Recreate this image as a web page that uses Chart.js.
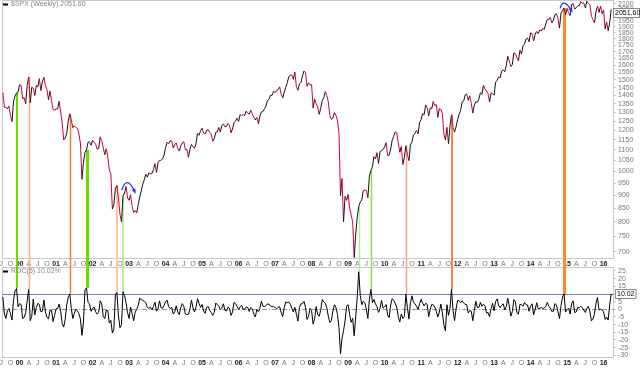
<!DOCTYPE html>
<html><head><meta charset="utf-8">
<script src="https://cdn.jsdelivr.net/npm/chart.js@4.4.1/dist/chart.umd.min.js"></script>
<style>
html,body{margin:0;padding:0;background:#fff;}
#wrap{position:relative;width:640px;height:369px;overflow:hidden;background:#fff;}
canvas{position:absolute;left:0;}
</style></head><body>
<div id="wrap">
<canvas id="c1" width="640" height="267" style="top:0"></canvas>
<canvas id="c2" width="640" height="102" style="top:267px"></canvas>
</div>
<script>
// ---- categories: semi-monthly sample dates (decimal years), starting mid-July 1999
const startYear = 1999 + 13/24;
const stepYears = 1/24;

// ---- $SPX weekly close (sampled twice a month)
const spxWeekly = [
1418,1329,1330,1320,1336,1283,1247,1363,1397,1416,1421,1469,
1465,1380,1387,1350,1464,1520,1356,1452,1447,1400,1464,1455,1509,1431,1491,1518,1465,1437,1374,1429,1367,1315,1312,1320,
1318,1366,1301,1240,1150,1160,1183,1250,1291,1256,1214,1224,1215,1211,1181,1134,966,1041,1089,1100,1138,1140,1123,1148,
1139,1130,1104,1107,1166,1147,1111,1077,1106,1067,1007,990,847,864,929,940,889,827,800,897,909,936,889,880,
902,856,834,841,833,863,893,917,946,964,988,975,994,990,990,1008,1036,996,1039,1051,1050,1058,1075,1112,
1139,1131,1145,1145,1110,1126,1135,1107,1095,1121,1135,1141,1101,1102,1065,1104,1128,1115,1108,1130,1184,1174,1198,1212,
1185,1181,1200,1204,1190,1181,1143,1157,1190,1192,1216,1191,1227,1234,1220,1220,1237,1229,1187,1207,1242,1250,1267,1248,
1287,1280,1287,1281,1307,1295,1289,1311,1291,1270,1256,1270,1236,1277,1302,1304,1321,1336,1369,1378,1401,1401,1427,1418,
1431,1438,1455,1407,1386,1421,1452,1482,1522,1531,1533,1503,1553,1455,1433,1474,1484,1527,1561,1549,1458,1481,1468,1468,
1325,1379,1349,1331,1288,1323,1370,1386,1425,1400,1360,1280,1260,1267,1298,1283,1255,1190,899,969,800,896,880,903,
850,826,800,683,757,816,857,873,882,919,921,919,890,979,1004,1021,1068,1057,1087,1036,1093,1096,1102,1115,
1136,1074,1075,1104,1150,1169,1192,1187,1135,1089,1117,1031,1065,1121,1079,1049,1125,1141,1176,1183,1199,1181,1243,1258,
1293,1286,1343,1327,1279,1326,1320,1364,1338,1345,1271,1321,1316,1292,1179,1150,1216,1131,1224,1285,1216,1190,1219,1258,
1289,1312,1361,1366,1404,1409,1370,1398,1353,1295,1342,1362,1357,1379,1418,1407,1465,1441,1428,1412,1360,1416,1413,1402,
1485,1498,1520,1515,1560,1569,1555,1598,1667,1631,1592,1606,1692,1686,1655,1633,1710,1682,1745,1757,1798,1806,1775,1848,
1839,1783,1838,1860,1841,1872,1864,1884,1878,1924,1962,1960,1978,1931,1955,2003,2010,1972,1887,2018,2039,2064,2002,2059,
2019,1995,2097,2104,2053,2068,2081,2086,2122,2107,2110,2063,2127,2104,2092,1989,1958,1931,2033,2079,2023,2080,2012,2044,
1880,1940,1865,1932,2051.6
];

// ---- ROC(5) in percent, same dates
const roc5 = [
8,-3,-6,-1,0.5,-2.8,-7,6,12,13.5,1.7,3.7,
3.1,-6,-5.3,-2.2,5.6,13,-7.4,-4.5,6.7,-3.6,1.2,3.9,3.1,-1.6,-1.2,6.1,-1.7,-5.3,-6.2,-0.6,-0.5,-8,-4,0.4,
0.5,3.5,-1.3,-9.2,-11.6,-6.5,2.9,7.8,10,0.5,-6,-2.5,0.1,-1,-2.8,-6.4,-17,-8.2,12.7,14,4.5,3.6,-1.3,0.7,
1.4,-1.6,-3.1,-2,5.6,3.6,-4.7,-6.1,-0.5,-0.9,-9,-7.2,-15.5,-12.7,9.7,11,-4.3,-12,-10,11.5,9,4.3,-2.2,-6,
1.5,-2.7,-7.5,-1.8,-0.1,2.6,7.2,6.3,5.9,5.1,4.4,1.1,0.6,1.5,-0.4,1.8,4.6,-1.2,0.3,5.5,1.1,0.7,2.4,5.1,
6,1.7,0.5,1.2,-3.1,-1.7,2.3,-1.7,-3.5,1.3,3.7,1.8,-3,-3.4,-3.3,0.2,5.9,1,-1.8,1.3,6.9,3.9,1.2,3.2,
-1.1,-2.6,1.3,1.9,-0.8,-1.9,-4,-2,4.1,3,2.2,-0.1,0.9,3.6,-0.6,-1.1,1.4,0.7,-4,-1.8,4.6,3.6,2,-0.2,
1.6,2.6,0,0.1,1.6,1.1,-1.4,1.2,0.2,-3.1,-5,0,-1.6,0.6,5.3,2.1,1.5,2.5,3.6,3.1,2.3,1.7,1.9,1.2,
0.3,1.4,1.7,-2.2,-4.7,1,4.8,4.3,4.8,3.3,0.7,-1.8,1.3,-3.2,-7.7,1.3,3.6,3.6,5.2,1.4,-6.6,-4.4,0.7,-0.9,
-9.7,-6.1,1.8,-3.5,-4.5,-0.6,6.4,4.8,4,1,-4.6,-8.6,-7.4,-1,3,1.3,-3.3,-12,-29,-19,-14,-7.5,2,3,
-3.4,-8.5,-5.9,-17.3,-5,8,24.5,9,3,5.3,4.4,0,-6,6.5,13,4.3,6.4,3.5,1.8,-2,0.6,5.8,0.8,1.7,
3.1,-3.7,-5.4,2.8,7,5.9,3.7,1.5,-4.8,-8.3,-3,-6,-4.7,9.8,1.3,-6.4,4.3,8.8,4.5,3.7,2,-0.2,3.7,6.5,
4,2.2,3.9,3.2,-4.8,-0.1,3.2,2.9,1.4,-1.4,-5,-1.8,3.5,-2.2,-10.4,-14,3,-3.9,0.7,13,-0.7,-7.4,0.2,5.7,
5.7,4.3,5.6,4.1,3.2,3.1,-2.4,-0.8,-1.2,-7.4,-0.8,5.2,1.1,1.2,4.5,2,3.3,2.4,-2.5,-2,-4.8,0.3,3.9,-1,
5.1,6.8,2.4,1.1,2.6,3.6,-0.3,1.8,7.2,2.1,-4.5,-1.5,6.3,5,-2.2,-3.1,3.3,3,2,4.5,3,2.8,-1.3,2.3,
3.6,-3.5,-0.1,4.3,0.2,0.6,1.2,0.6,0.8,2.1,4.5,1.9,0.8,-1.5,-1.2,3.7,2.8,-1.5,-6.1,2.3,8,10,-1.8,-0.2,
0.8,-3.1,3.9,5.5,-2.1,-1.7,1.4,0.9,2,1,-0.6,-2.1,0.8,2,-1.6,-7.5,-6.4,-2.9,3.8,7.7,-0.5,0,-0.5,-1.7,
-6.6,-5,-7,3,10.02
];

// ---- tick labels
const priceTicks = [700,750,800,850,900,950,1000,1050,1100,1150,1200,1250,1300,1350,1400,1450,1500,1550,1600,1650,1700,1750,1800,1850,1900,1950,2000,2050,2100];
const rocTicks = [25,20,15,10,5,0,-5,-10,-15,-20,-25,-30];
const quarterLetters = ['', 'A', 'J', 'O'];
const firstQuarterTick = 1999.5, lastQuarterTick = 2016.0;

// ---- signal lines (index into the series) and their colours / widths
const signalIdx   = [9, 17, 44, 55, 75, 79, 234, 242, 265, 295, 369];
const signalColor = ['#6cdc00','#ffb080','#f27c36','#6cdc00','#ffc4a4','#b6ef9c','#b2ec9c','#8ce048','#f2a584','#f08a4a','#ff8a2c'];
const signalWidth = [2, 1.5, 1.5, 3, 2, 2, 1.5, 1.5, 1.5, 2, 3];

// ---- blue arc annotations: [startDate, startPrice, peakDate, peakPrice, endDate, endPrice]
const arcNotes = [
  [2002.80, 921, 2002.96, 952, 2003.16, 912],
  [2014.81, 2060, 2014.93, 2108, 2015.13, 2034]
];

const lastPrice = spxWeekly[spxWeekly.length-1];
const lastRoc = roc5[roc5.length-1];

const dates = spxWeekly.map((_, i) => startYear + i*stepYears);
const xTickValues = [];
for (let v = firstQuarterTick; v <= lastQuarterTick + 1e-6; v += 0.25) xTickValues.push(v);
function quarterIndex(v){ return ((Math.round(v*4) % 4) + 4) % 4; }
function quarterLabel(v){
  const q = quarterIndex(v);
  if (q === 0) return String(Math.round(v) % 100).padStart(2,'0');
  return quarterLetters[q];
}
function isYear(v){ return quarterIndex(v) === 0; }
function tickIsYear(c){ return !!(c && c.tick && isYear(c.tick.value)); }

const XMIN = 1999.518, XMAX = 2016.285;
const FONT = "'Liberation Sans', Arial, sans-serif";
Chart.defaults.font.family = FONT;
Chart.defaults.font.size = 7;

function xAxis(height){
  return {
    type:'linear', min:XMIN, max:XMAX, bounds:'data',
    grid:{display:false, drawTicks:false}, border:{display:false},
    afterBuildTicks: s => { s.ticks = xTickValues.map(v => ({value:v})); },
    ticks:{autoSkip:false, maxRotation:0, minRotation:0, padding:1,
      callback: v => quarterLabel(v),
      color: c => tickIsYear(c) ? '#222' : '#777',
      font: c => ({size:7, family:FONT, weight: tickIsYear(c) ? 'bold' : 'normal'})},
    afterFit: s => { s.height = height; s.paddingLeft = 0; s.paddingRight = 0; }
  };
}

function drawFrame(ctx, a){
  ctx.save();
  ctx.strokeStyle = '#c8c8c8'; ctx.lineWidth = 1;
  ctx.strokeRect(Math.round(a.left)+0.5, Math.round(a.top)+0.5, Math.round(a.right-a.left)-1, Math.round(a.bottom-a.top)-1);
  ctx.restore();
}
function valueBox(ctx, x, y, text){
  ctx.save();
  ctx.font = '7px ' + FONT;
  const w = Math.min(ctx.measureText(text).width + 3, 639 - x);
  const top = Math.round(y-4.5);
  ctx.fillStyle = '#fff'; ctx.strokeStyle = '#888'; ctx.lineWidth = 1;
  ctx.fillRect(x, top+0.5, w, 9);
  ctx.strokeRect(x+0.5, top+0.5, w, 9);
  ctx.fillStyle = '#000'; ctx.textBaseline = 'middle'; ctx.textAlign='left';
  ctx.fillText(text, x+2, top+5);
  ctx.restore();
}
function legendText(ctx, x, y, text){
  ctx.save();
  ctx.fillStyle = '#000';
  ctx.fillRect(x, y-0.5, 5, 2);
  ctx.font = '7px ' + FONT; ctx.fillStyle = '#888'; ctx.textBaseline = 'middle';
  ctx.fillText(text, x+8, y+0.5);
  ctx.restore();
}

const upColor = '#111111', downColor = '#d4002c';

const priceDeco = {
  id:'priceDeco',
  beforeDatasetsDraw(chart){
    const {ctx, chartArea:a, scales:{x, y}} = chart;
    drawFrame(ctx, a);
    ctx.save();
    signalIdx.forEach((idx, k) => {
      const px = Math.round(x.getPixelForValue(dates[idx])) + (signalWidth[k] % 2 ? 0.5 : 0);
      const py = y.getPixelForValue(spxWeekly[idx]);
      ctx.strokeStyle = signalColor[k]; ctx.lineWidth = signalWidth[k];
      ctx.beginPath(); ctx.moveTo(px, py); ctx.lineTo(px, chart.height); ctx.stroke();
    });
    ctx.restore();
  },
  afterDraw(chart){
    const {ctx, chartArea:a, scales:{x, y}} = chart;
    ctx.save();
    ctx.strokeStyle = '#1f3cff'; ctx.fillStyle = '#1f3cff'; ctx.lineWidth = 1.3;
    arcNotes.forEach(n => {
      const sx = x.getPixelForValue(n[0]), sy = y.getPixelForValue(n[1]);
      const mx = x.getPixelForValue(n[2]), my = y.getPixelForValue(n[3]);
      const ex = x.getPixelForValue(n[4]), ey = y.getPixelForValue(n[5]);
      const cx = 2*mx - (sx+ex)/2, cy = 2*my - (sy+ey)/2;
      ctx.beginPath(); ctx.moveTo(sx, sy); ctx.quadraticCurveTo(cx, cy, ex, ey); ctx.stroke();
      const ang = Math.atan2(ey-cy, ex-cx);
      ctx.beginPath();
      ctx.moveTo(ex + Math.cos(ang)*1.5, ey + Math.sin(ang)*1.5);
      ctx.lineTo(ex + Math.cos(ang+2.6)*4, ey + Math.sin(ang+2.6)*4);
      ctx.lineTo(ex + Math.cos(ang-2.6)*4, ey + Math.sin(ang-2.6)*4);
      ctx.closePath(); ctx.fill();
    });
    ctx.restore();
    valueBox(ctx, a.right-1, y.getPixelForValue(lastPrice)+3, lastPrice.toFixed(2));
    legendText(ctx, 3, 4, '$SPX (Weekly) ' + lastPrice.toFixed(2));
  }
};

const rocDeco = {
  id:'rocDeco',
  beforeDatasetsDraw(chart){
    const {ctx, chartArea:a, scales:{x, y}} = chart;
    drawFrame(ctx, a);
    ctx.save();
    const y0 = Math.round(y.getPixelForValue(0)) + 0.5;
    ctx.strokeStyle = '#9a9a9a'; ctx.lineWidth = 1; ctx.setLineDash([5,2,1,2]);
    ctx.beginPath(); ctx.moveTo(a.left, y0); ctx.lineTo(a.right, y0); ctx.stroke();
    ctx.setLineDash([]);
    const y10 = Math.round(y.getPixelForValue(10)) + 0.5;
    ctx.strokeStyle = '#7a7ab4'; ctx.lineWidth = 1;
    ctx.beginPath(); ctx.moveTo(a.left, y10); ctx.lineTo(a.right, y10); ctx.stroke();
    signalIdx.forEach((idx, k) => {
      const px = Math.round(x.getPixelForValue(dates[idx])) + (signalWidth[k] % 2 ? 0.5 : 0);
      const py = y.getPixelForValue(roc5[idx]);
      ctx.strokeStyle = signalColor[k]; ctx.lineWidth = signalWidth[k];
      ctx.beginPath(); ctx.moveTo(px, 0); ctx.lineTo(px, py); ctx.stroke();
    });
    ctx.restore();
  },
  afterDraw(chart){
    const {ctx, chartArea:a, scales:{y}} = chart;
    valueBox(ctx, a.right+1, y.getPixelForValue(lastRoc), lastRoc.toFixed(2));
    legendText(ctx, 3, 4, 'ROC(5) ' + lastRoc.toFixed(2) + '%');
  }
};

new Chart(document.getElementById('c1'), {
  type:'line',
  data:{ datasets:[{
    data: spxWeekly.map((v, i) => ({x: dates[i], y: v})),
    borderColor: upColor, borderWidth: 1, pointRadius: 0, tension: 0,
    segment:{ borderColor: c => c.p1.parsed.y < c.p0.parsed.y ? downColor : upColor }
  }]},
  options:{
    responsive:false, animation:false, devicePixelRatio:1,
    layout:{padding:{left:2, right:0, top:0, bottom:0}},
    plugins:{legend:{display:false}, tooltip:{enabled:false}},
    scales:{
      x: xAxis(8),
      y: {type:'logarithmic', position:'right', min:678.6, max:2137.5, bounds:'data',
        afterBuildTicks: s => { s.ticks = priceTicks.map(v => ({value:v})); },
        grid:{display:true, drawOnChartArea:false, drawTicks:true, tickLength:2, color:'#c8c8c8'},
        border:{display:false},
        ticks:{autoSkip:false, padding:2, color:'#777', font:{size:7}, callback: v => String(v)},
        afterFit: s => { s.width = 26; s.paddingTop = 0; s.paddingBottom = 0; }
      }
    }
  },
  plugins:[priceDeco]
});

new Chart(document.getElementById('c2'), {
  type:'line',
  data:{ datasets:[{
    data: roc5.map((v, i) => ({x: dates[i], y: v})),
    borderColor:'#000', borderWidth:1, pointRadius:0, tension:0
  }]},
  options:{
    responsive:false, animation:false, devicePixelRatio:1,
    layout:{padding:{left:2, right:0, top:0, bottom:0}},
    plugins:{legend:{display:false}, tooltip:{enabled:false}},
    scales:{
      x: xAxis(11),
      y: {type:'linear', position:'right', min:-31.76, max:27.6, bounds:'data',
        afterBuildTicks: s => { s.ticks = rocTicks.map(v => ({value:v})); },
        grid:{display:true, drawOnChartArea:false, drawTicks:true, tickLength:2, color:'#c8c8c8'},
        border:{display:false},
        ticks:{autoSkip:false, padding:2, color:'#777', font:{size:7}, callback: v => String(v)},
        afterFit: s => { s.width = 26; s.paddingTop = 0; s.paddingBottom = 0; }
      }
    }
  },
  plugins:[rocDeco]
});
</script>
</body></html>
